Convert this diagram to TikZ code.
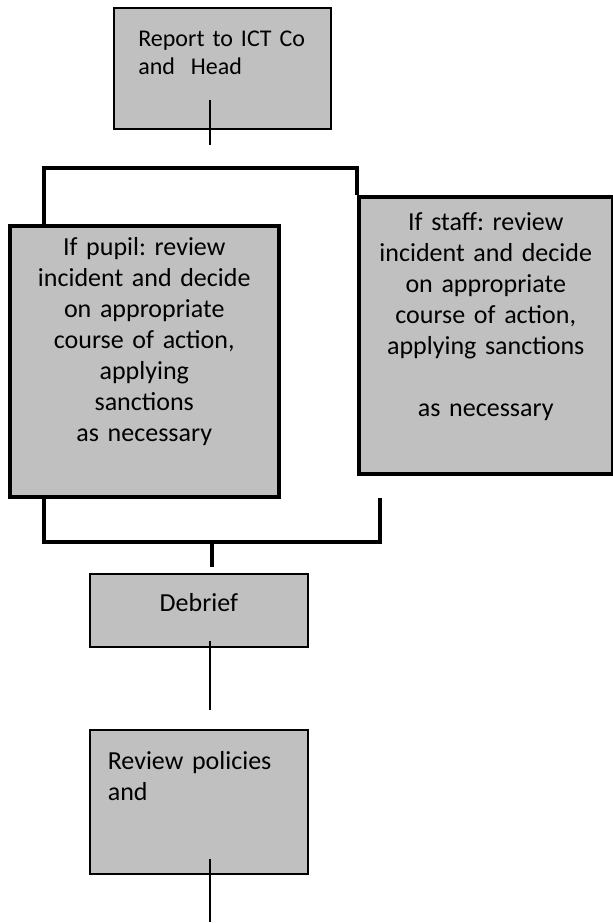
\documentclass[tikz,border=0pt]{standalone}
\usepackage{fontspec}
\setmainfont{Carlito}
\definecolor{boxgray}{RGB}{192,192,192}
\frenchspacing

\begin{document}
\begin{tikzpicture}[x=0.5pt,y=-0.5pt,
plainbox/.style={rectangle, draw=black, line width=0.8pt, fill=boxgray, anchor=north west, inner sep=0pt, font=\fontsize{13}{15.5}\selectfont},
heavybox/.style={plainbox, line width=1.75pt, align=center},
bracket/.style={line width=1.75pt},
stub/.style={line width=0.7pt}]

\useasboundingbox (0,0) rectangle (612,923);

\draw (113,7) node[plainbox, font=\fontsize{12}{14}\selectfont, text width=84pt, align=left, minimum width=108.5pt, text height=19.5pt, text depth=41pt] (rep) {Report to ICT Co\\and~~Head};
\draw (8,224) node[heavybox, text width=125pt, minimum width=134.5pt, text height=15pt, text depth=120.5pt] (pupil) {If pupil: review\\incident and decide\\on appropriate\\course of action,\\applying\\sanctions\\as necessary};
\draw (357,195) node[heavybox, text width=120pt, minimum width=127pt, text height=17pt, text depth=121.5pt] (staff) {If staff: review\\incident and decide\\on appropriate\\course of action,\\applying sanctions\\[15.5pt]as necessary};
\draw (89,573) node[plainbox, minimum width=109pt, text height=18.75pt, text depth=17.75pt] (debrief) {Debrief};
\draw (89,729) node[plainbox, text width=91pt, align=left, minimum width=109pt, text height=20pt, text depth=52pt] (review) {Review policies\\and};

\coordinate (repout) at (210,145);
\coordinate (topL) at (44,168);
\coordinate (botL) at (44,542);
\coordinate (botR) at (380,542);
\coordinate (join) at (212,542);
\coordinate (joinout) at (212,567);
\coordinate (debout) at (210,710);
\coordinate (revout) at (210,922);

\draw[stub] (rep.south -| repout) ++(0,-30) -- (repout);
\draw[bracket] (pupil.north -| topL) -- (topL) -| (staff.north west);
\draw[bracket] (staff.south -| botR) ++(0,22) -- (botR) -- (botL) -- (pupil.south -| botL);
\draw[bracket] (join) -- (joinout);
\draw[stub] (debrief.south -| debout) ++(0,-7) -- (debout);
\draw[stub] (review.south -| revout) ++(0,-16) -- (revout);
\end{tikzpicture}
\end{document}
